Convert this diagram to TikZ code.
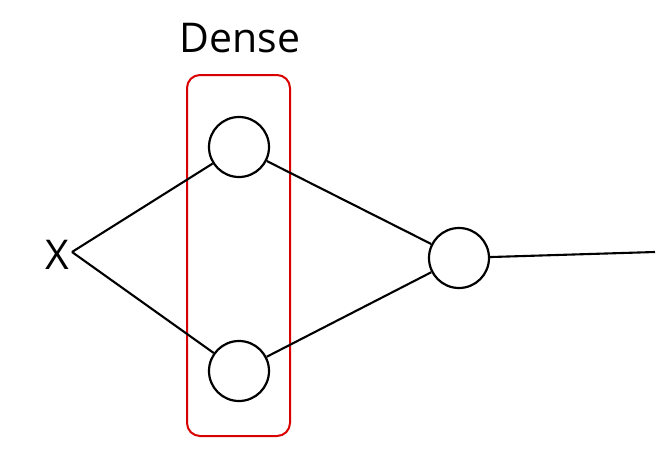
\documentclass[tikz,border=0pt]{standalone}
\usepackage{fontspec}
\setmainfont{Open Sans}
\begin{document}
\begin{tikzpicture}[x=1pt,y=-1pt,
  neuron/.style={circle,draw=black,line width=2.2pt,minimum size=60pt,inner sep=0pt},
  conn/.style={draw=black,line width=2.1pt},
  lbl/.style={font=\fontsize{41}{41}\selectfont,inner sep=0pt}]
\useasboundingbox (0,0) rectangle (670,458);
\node[draw=red!85!black,line width=2pt,rounded corners=13pt,minimum width=103pt,minimum height=361pt,inner sep=0pt] (box) at (238.5,255.5) {};
\node[lbl] (dense) at (240,38) {Dense};
\node[lbl] (x) at (57,255) {X};
\node[neuron] (h1) at (239,147) {};
\node[neuron] (h2) at (239,371) {};
\node[neuron] (o) at (459,258) {};
\coordinate (end) at (655,252);
\coordinate (xr) at (72,252);
\draw[conn] (xr) -- (h1);
\draw[conn] (xr) -- (h2);
\draw[conn] (h1) -- (o);
\draw[conn] (h2) -- (o);
\draw[conn] (o) -- (end);
\end{tikzpicture}
\end{document}
